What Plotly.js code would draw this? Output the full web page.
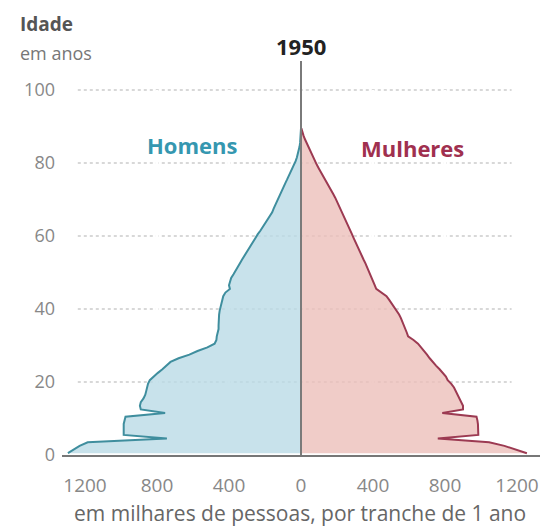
<!DOCTYPE html>
<html>
<head>
<meta charset="utf-8">
<script src="https://cdn.plot.ly/plotly-3.0.1.min.js"></script>
<style>html,body{margin:0;padding:0;background:#fff;}#chart{width:546px;height:528px;}</style>
</head>
<body>
<div id="chart"></div>
<script>
// Ages (single-year groups) 0..89
var ages = [];
for (var a = 0; a <= 89; a++) ages.push(a);

// Men, thousands per 1-year age group
var homens = [1295,1265,1230,1185,745,985,985,985,985,980,
  975,755,890,895,890,875,865,860,855,850,
  840,820,795,770,750,725,680,620,575,520,
  480,470,468,462,458,458,458,458,455,452,
  448,443,438,432,420,395,400,395,388,375,
  362,350,340,328,316,303,290,278,267,255,
  240,225,212,198,184,170,160,152,143,135,
  127,117,107,97,87,77,67,57,47,38,
  30,23,17,12,8,5,3,2,1,0];

// Women, thousands per 1-year age group
var mulheres = [1255,1195,1130,1045,760,985,985,985,983,980,
  975,785,900,900,890,880,868,860,850,835,
  815,805,790,770,750,730,715,700,685,668,
  650,625,595,588,580,575,565,555,545,532,
  518,503,490,475,445,418,410,402,393,383,
  375,368,358,348,338,328,318,310,300,292,
  283,274,265,256,246,236,226,216,207,199,
  190,179,167,155,143,132,121,110,99,88,
  78,68,58,48,39,30,22,14,7,2];

var xTickVals = [-1200,-800,-400,0,400,800,1200];
var xTickText = ["1200","800","400","0","400","800","1200"];
var yTickVals = [0,20,40,60,80,100];
var gridAges = [20,40,60,80,100];
var whiteGrid = [-800,-400,400,800];

// each 1-year group is drawn at its middle
var ageMid = ages.map(function(a){ return a + 0.5; });

var W = 546, H = 528, L = 62, R = 6, T = 61, B = 73;
var pw = W - L - R, ph = H - T - B;
function px(x){ return (x - L) / pw; }
function py(y){ return 1 - (y - T) / ph; }

var font = "'Open Sans', 'DejaVu Sans', sans-serif";

var traces = [
  {
    x: homens.map(function(v){ return -v; }), y: ageMid,
    type: 'scatter', mode: 'lines', line: {shape: 'linear', color: '#3f8e9e', width: 2},
    fill: 'tozerox', fillcolor: 'rgba(186,219,230,0.8)', hoverinfo: 'skip'
  },
  {
    x: mulheres, y: ageMid,
    type: 'scatter', mode: 'lines', line: {shape: 'linear', color: '#9c3a52', width: 2},
    fill: 'tozerox', fillcolor: 'rgba(236,191,186,0.8)', hoverinfo: 'skip'
  }
];

var shapes = gridAges.map(function(g){
  return {type: 'line', xref: 'x', yref: 'y', x0: -1240, x1: 1170, y0: g, y1: g,
    line: {color: '#cccccc', width: 1.5, dash: 'dot'}, layer: 'below'};
});
whiteGrid.forEach(function(v){
  shapes.push({type: 'line', xref: 'x', yref: 'y', x0: v, x1: v, y0: 0, y1: 100,
    line: {color: '#ffffff', width: 3}, layer: 'below'});
});
shapes.push({type: 'line', xref: 'x', yref: 'paper', x0: 0, x1: 0, y0: 0, y1: 1,
  line: {color: '#7a7a7a', width: 2}, layer: 'above'});

var annotations = [
  {text: '<b>Idade</b>', x: px(18), y: py(24), xref: 'paper', yref: 'paper', xanchor: 'left', yanchor: 'middle',
   showarrow: false, font: {family: font, size: 19, color: '#555'}},
  {text: 'em anos', x: px(18), y: py(53), xref: 'paper', yref: 'paper', xanchor: 'left', yanchor: 'middle',
   showarrow: false, font: {family: font, size: 18, color: '#777'}},
  {text: '<b>1950</b>', x: px(301), y: py(46), xref: 'paper', yref: 'paper', xanchor: 'center', yanchor: 'middle',
   showarrow: false, font: {family: font, size: 22, color: '#222'}},
  {text: '<b>Homens</b>', x: px(192), y: py(145), xref: 'paper', yref: 'paper', xanchor: 'center', yanchor: 'middle',
   showarrow: false, font: {family: font, size: 22, color: '#3597b0'}},
  {text: '<b>Mulheres</b>', x: px(412), y: py(148), xref: 'paper', yref: 'paper', xanchor: 'center', yanchor: 'middle',
   showarrow: false, font: {family: font, size: 22, color: '#a0304f'}},
  {text: 'em milhares de pessoas, por tranche de 1 ano', x: px(300), y: py(513), xref: 'paper', yref: 'paper',
   xanchor: 'center', yanchor: 'middle', showarrow: false, font: {family: font, size: 21, color: '#666'}}
];

var layout = {
  width: W, height: H,
  margin: {l: L, r: R, t: T, b: B, pad: 0},
  paper_bgcolor: '#fff', plot_bgcolor: '#fff',
  showlegend: false,
  xaxis: {range: [-pw / 2 / 0.18, pw / 2 / 0.18], tickvals: xTickVals, ticktext: xTickText,
    showgrid: false, zeroline: false, showline: true, linecolor: '#777', linewidth: 2,
    ticks: '', ticklabelstandoff: 12, tickfont: {family: font, size: 19, color: '#888'}, fixedrange: true},
  yaxis: {range: [0, ph / 3.65], tickvals: yTickVals, showgrid: false, zeroline: false, showline: false,
    ticks: '', ticklabelstandoff: 6, tickfont: {family: font, size: 18, color: '#888'}, fixedrange: true},
  shapes: shapes,
  annotations: annotations
};

Plotly.newPlot('chart', traces, layout, {staticPlot: true, displayModeBar: false});
</script>
</body>
</html>
